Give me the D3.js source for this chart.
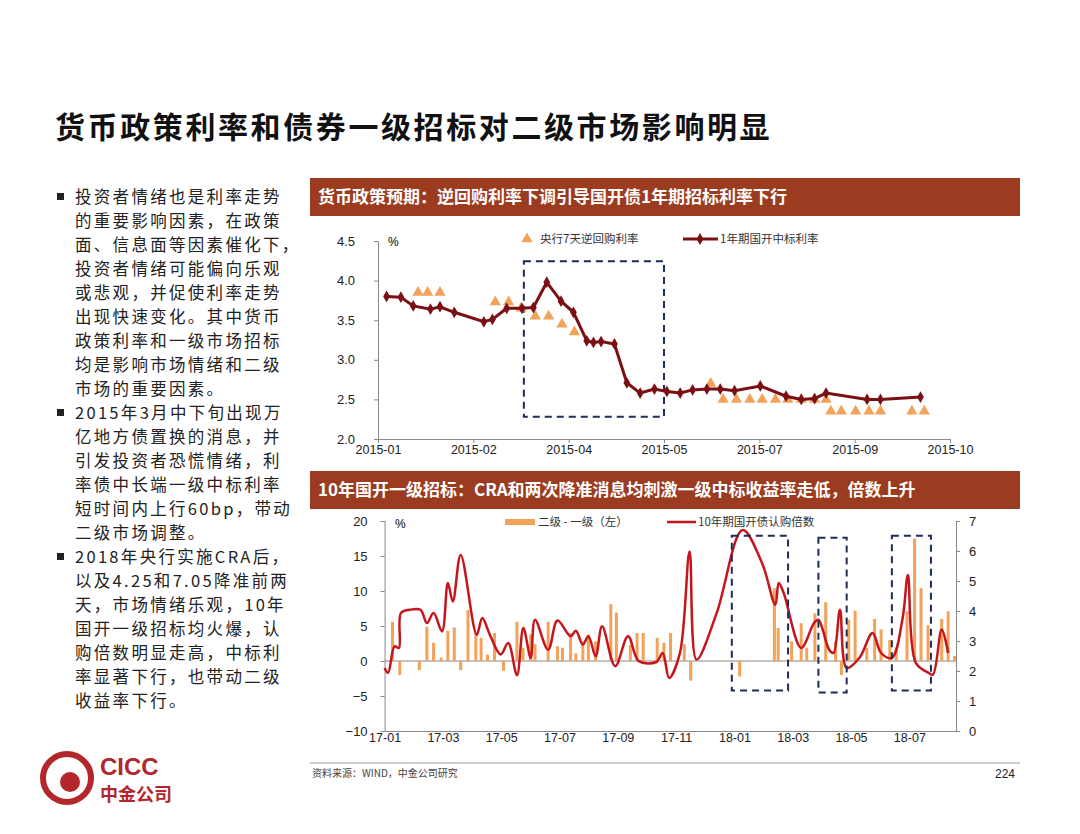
<!DOCTYPE html>
<html lang="zh">
<head>
<meta charset="UTF-8">
<script src="https://d3js.org/d3.v7.min.js"></script>
<style>
  body { margin: 0; background: #fff; font-family: "Noto Sans CJK SC", sans-serif; }
  svg text { font-family: "Noto Sans CJK SC", sans-serif; }
  .num { font-family: Arial, "Liberation Sans", sans-serif !important; }
</style>
</head>
<body>
<svg width="1080" height="834"></svg>
<script>
// ---- top chart data (t = tick slot 0..6) ----
var topTicks = ["2015-01", "2015-02", "2015-04", "2015-05", "2015-07", "2015-09", "2015-10"];
var bidT = [0.09,0.24,0.37,0.55,0.65,0.80,1.11,1.20,1.35,1.51,1.63,1.77,1.92,2.05,2.19,2.26,2.34,2.48,2.61,2.75,2.90,3.03,3.17,3.30,3.45,3.59,3.74,4.01,4.28,4.44,4.58,4.70,5.13,5.27,5.69];
var bidY = [3.80,3.79,3.68,3.64,3.67,3.60,3.48,3.51,3.65,3.65,3.66,3.98,3.74,3.60,3.24,3.22,3.23,3.20,2.71,2.58,2.63,2.60,2.58,2.62,2.63,2.63,2.61,2.67,2.54,2.50,2.51,2.58,2.50,2.50,2.53];
var repoT = [0.42,0.52,0.65,1.23,1.37,1.50,1.65,1.79,1.93,2.06,3.49,3.62,3.76,3.90,4.03,4.17,4.30,4.44,4.58,4.70,4.75,4.86,5.01,5.15,5.27,5.60,5.73];
var repoY = [3.85,3.85,3.85,3.73,3.73,3.65,3.55,3.55,3.45,3.35,2.70,2.50,2.50,2.50,2.50,2.50,2.50,2.50,2.50,2.50,2.35,2.35,2.35,2.35,2.35,2.35,2.35];
var topBox = [1.53, 3.0, 4.245, 2.28];

// ---- bottom chart data (m = months since 2017-01) ----
var botTicks = ["17-01","17-03","17-05","17-07","17-09","17-11","18-01","18-03","18-05","18-07"];
var spreadM = [0.27,0.52,1.19,1.45,1.68,1.94,2.17,2.39,2.61,2.86,3.13,3.31,3.53,3.77,4.08,4.54,4.75,5.01,5.16,5.61,5.93,6.10,6.38,6.56,6.80,6.99,7.24,7.76,7.95,8.43,8.66,8.87,9.35,9.58,9.81,10.28,10.50,12.18,13.37,13.50,13.96,14.29,14.48,14.76,15.13,15.47,15.67,15.92,16.14,16.54,16.81,17.03,17.33,17.55,17.92,18.18,18.40,18.64,19.11,19.33,19.55];
var spreadV = [5.6,-2.0,-1.3,4.9,2.6,0.5,4.3,4.8,-1.3,7.3,4.0,3.3,0.9,4.0,-1.4,5.6,1.9,3.8,2.4,5.6,2.1,1.9,4.0,1.1,2.8,3.8,2.8,8.1,6.9,2.3,4.0,4.0,3.3,2.6,4.0,2.4,-2.8,-2.2,10.4,4.7,2.8,5.4,1.9,6.8,8.4,2.8,-2.0,5.9,7.2,1.9,6.0,4.5,3.0,1.9,7.1,17.5,10.4,5.1,6.0,7.1,0.7];
var multM = [0,0.12,0.34,0.49,0.56,0.86,1.23,1.45,1.68,1.97,2.17,2.34,2.61,3.16,3.35,3.61,3.98,4.24,4.54,4.76,5.01,5.16,5.61,5.93,6.38,6.56,6.80,6.99,7.24,7.46,7.91,8.35,8.72,9.32,9.54,9.76,10.13,10.46,10.70,11.39,12.28,12.95,13.40,13.52,13.69,14.29,14.73,14.88,15.25,15.40,15.62,15.85,16.29,16.74,17.03,17.40,17.77,17.95,18.22,18.66,18.81,19.11,19.33];
var multV = [2.10,1.94,2.82,2.77,3.93,4.04,4.04,3.60,3.93,3.32,4.93,4.32,5.87,3.21,3.77,3.21,2.55,2.93,1.86,3.43,2.44,3.71,2.71,3.68,3.16,3.34,2.88,3.16,2.49,3.49,2.16,3.16,2.33,2.30,2.60,1.77,2.60,5.98,2.38,3.93,6.70,5.59,4.21,4.93,4.60,2.77,3.60,3.71,2.71,2.60,4.04,2.10,2.44,3.27,2.60,2.44,3.77,5.20,2.27,1.94,1.88,3.38,2.60];
var botBoxes = [[11.91,13.84,17.9,-4.2],[14.88,15.85,17.6,-4.5],[17.40,18.74,17.9,-4.2]];

var bullets = [
  ["投资者情绪也是利率走势","的重要影响因素，在政策","面、信息面等因素催化下，","投资者情绪可能偏向乐观","或悲观，并促使利率走势","出现快速变化。其中货币","政策利率和一级市场招标","均是影响市场情绪和二级","市场的重要因素。"],
  ["2015年3月中下旬出现万","亿地方债置换的消息，并","引发投资者恐慌情绪，利","率债中长端一级中标利率","短时间内上行60bp，带动","二级市场调整。"],
  ["2018年央行实施CRA后，","以及4.25和7.05降准前两","天，市场情绪乐观，10年","国开一级招标均火爆，认","购倍数明显走高，中标利","率显著下行，也带动二级","收益率下行。"]
];

var svg = d3.select("svg");
var BAR = "#9b3b1f", NAVY = "#1e2d55", ORANGE = "#f2a25a";

svg.append("text").attr("x", 55).attr("y", 138).attr("font-size", 30).attr("font-weight", "bold")
  .attr("letter-spacing", 2.6).attr("fill", "#111").text("货币政策利率和债券一级招标对二级市场影响明显");

// bullets
var ly = 203;
bullets.forEach(function(lines) {
  svg.append("rect").attr("x", 57).attr("y", ly - 10).attr("width", 7).attr("height", 7).attr("fill", "#222");
  lines.forEach(function(l) {
    svg.append("text").attr("x", 75).attr("y", ly).attr("font-size", 16.5).attr("letter-spacing", 2.3)
      .attr("fill", "#222").text(l);
    ly += 24;
  });
});

// header bars
function header(y, txt) {
  svg.append("rect").attr("x", 310).attr("y", y).attr("width", 710).attr("height", 38).attr("fill", BAR);
  svg.append("text").attr("x", 318).attr("y", y + 25).attr("font-size", 17).attr("font-weight", "bold")
    .attr("fill", "#fff").text(txt);
}
header(178, "货币政策预期：逆回购利率下调引导国开债1年期招标利率下行");
header(471, "10年国开一级招标：CRA和两次降准消息均刺激一级中标收益率走低，倍数上升");

// ---- top chart ----
var xT = d3.scaleLinear().domain([0, 6]).range([378, 950]);
var yT = d3.scaleLinear().domain([2, 4.5]).range([439, 241]);
var gT = svg.append("g");
gT.append("g").attr("transform", "translate(378,0)")
  .call(d3.axisLeft(yT).tickValues([2, 2.5, 3, 3.5, 4, 4.5]).tickFormat(d3.format(".1f")).tickSize(4))
  .call(function(g) { g.selectAll("text").attr("class", "num").attr("font-size", 13).attr("fill", "#222").attr("dx", -16); });
gT.append("g").attr("transform", "translate(0,439)")
  .call(d3.axisBottom(xT).tickValues(d3.range(7)).tickFormat(function(d) { return topTicks[d]; }).tickSize(4))
  .call(function(g) { g.selectAll("text").attr("class", "num").attr("font-size", 12.5).attr("fill", "#222").attr("dy", 8); });
gT.selectAll(".domain, .tick line").attr("stroke", "#888");
gT.append("text").attr("class", "num").attr("x", 388).attr("y", 246).attr("font-size", 12).text("%");

gT.append("rect").attr("x", xT(topBox[0])).attr("y", yT(topBox[2]))
  .attr("width", xT(topBox[1]) - xT(topBox[0])).attr("height", yT(topBox[3]) - yT(topBox[2]))
  .attr("fill", "none").attr("stroke", NAVY).attr("stroke-width", 2).attr("stroke-dasharray", "7,5");

var tri = d3.symbol().type(d3.symbolTriangle).size(55);
gT.selectAll(".tri").data(repoT).enter().append("path")
  .attr("d", tri).attr("fill", ORANGE)
  .attr("transform", function(d, i) { return "translate(" + xT(d) + "," + yT(repoY[i]) + ")"; });

var bidPts = bidT.map(function(d, i) { return [xT(d), yT(bidY[i])]; });
gT.append("path").attr("d", d3.line()(bidPts)).attr("fill", "none").attr("stroke", "#7a0f14").attr("stroke-width", 3);
var dia = d3.symbol().type(d3.symbolDiamond).size(40);
gT.selectAll(".dia").data(bidPts).enter().append("path").attr("d", dia).attr("fill", "#7a0f14")
  .attr("transform", function(d) { return "translate(" + d[0] + "," + d[1] + ")"; });

// top legend
gT.append("path").attr("d", tri).attr("fill", ORANGE).attr("transform", "translate(527,239)");
gT.append("text").attr("x", 540).attr("y", 243).attr("font-size", 11.5).attr("fill", "#333").text("央行7天逆回购利率");
gT.append("line").attr("x1", 683).attr("x2", 718).attr("y1", 239).attr("y2", 239).attr("stroke", "#7a0f14").attr("stroke-width", 3);
gT.append("path").attr("d", dia).attr("fill", "#7a0f14").attr("transform", "translate(700,239)");
gT.append("text").attr("x", 720).attr("y", 243).attr("font-size", 11.5).attr("fill", "#333").text("1年期国开中标利率");

// ---- bottom chart ----
var xB = d3.scaleLinear().domain([0, 19.6]).range([384.6, 956]);
var yL = d3.scaleLinear().domain([-10, 20]).range([731, 521]);
var yR = d3.scaleLinear().domain([0, 7]).range([731, 521]);
var gB = svg.append("g");
gB.append("g").attr("transform", "translate(384.6,0)")
  .call(d3.axisLeft(yL).tickValues([-10, -5, 0, 5, 10, 15, 20]).tickSize(4))
  .call(function(g) { g.selectAll("text").attr("class", "num").attr("font-size", 13).attr("fill", "#222").attr("dx", -10); });
gB.append("g").attr("transform", "translate(956,0)")
  .call(d3.axisRight(yR).tickValues(d3.range(8)).tickFormat(d3.format("d")).tickSize(4))
  .call(function(g) { g.selectAll("text").attr("class", "num").attr("font-size", 13).attr("fill", "#222").attr("dx", 6); });
gB.append("g").attr("transform", "translate(0,731)")
  .call(d3.axisBottom(xB).tickValues(d3.range(0, 19, 2)).tickFormat(function(d) { return botTicks[d / 2]; }).tickSize(0))
  .call(function(g) { g.selectAll("text").attr("class", "num").attr("font-size", 12.5).attr("fill", "#222").attr("dy", 8); });
gB.selectAll(".domain, .tick line").attr("stroke", "#888");
gB.append("line").attr("x1", 384.6).attr("x2", 956).attr("y1", yL(0)).attr("y2", yL(0)).attr("stroke", "#888");
gB.append("text").attr("class", "num").attr("x", 395).attr("y", 528).attr("font-size", 12).text("%");

gB.selectAll(".bar").data(spreadM).enter().append("rect")
  .attr("x", function(d) { return xB(d) - 1.5; }).attr("width", 3)
  .attr("y", function(d, i) { return yL(Math.max(0, spreadV[i])); })
  .attr("height", function(d, i) { return Math.abs(yL(spreadV[i]) - yL(0)); })
  .attr("fill", ORANGE);

gB.append("path").attr("d", d3.line().curve(d3.curveCatmullRom.alpha(0.5))
    .x(function(d) { return xB(d); }).y(function(d, i) { return yR(multV[i]); })(multM))
  .attr("fill", "none").attr("stroke", "#c4161c").attr("stroke-width", 2.5);

botBoxes.forEach(function(b) {
  gB.append("rect").attr("x", xB(b[0])).attr("y", yL(b[2]))
    .attr("width", xB(b[1]) - xB(b[0])).attr("height", yL(b[3]) - yL(b[2]))
    .attr("fill", "none").attr("stroke", NAVY).attr("stroke-width", 2).attr("stroke-dasharray", "7,5");
});

// bottom legend
gB.append("rect").attr("x", 505).attr("y", 519).attr("width", 30).attr("height", 6).attr("fill", ORANGE);
gB.append("text").attr("x", 538).attr("y", 526).attr("font-size", 11.5).attr("fill", "#333").text("二级 - 一级（左）");
gB.append("line").attr("x1", 667).attr("x2", 696).attr("y1", 522).attr("y2", 522).attr("stroke", "#c4161c").attr("stroke-width", 2.5);
gB.append("text").attr("x", 698).attr("y", 526).attr("font-size", 11.5).attr("fill", "#333").text("10年期国开债认购倍数");

// footer
svg.append("line").attr("x1", 310).attr("x2", 1020).attr("y1", 763).attr("y2", 763).attr("stroke", "#999");
svg.append("text").attr("x", 312).attr("y", 777).attr("font-size", 10).attr("fill", "#444").text("资料来源：WIND，中金公司研究");
svg.append("text").attr("class", "num").attr("x", 1015).attr("y", 778).attr("text-anchor", "end").attr("font-size", 12).attr("fill", "#222").text("224");

// logo
svg.append("circle").attr("cx", 67).attr("cy", 778).attr("r", 24).attr("fill", "none").attr("stroke", "#b3262b").attr("stroke-width", 6);
svg.append("circle").attr("cx", 70).attr("cy", 782).attr("r", 10).attr("fill", "#b3262b");
svg.append("text").attr("class", "num").attr("x", 100).attr("y", 775).attr("font-size", 24).attr("font-weight", "bold").attr("fill", "#b3262b").text("CICC");
svg.append("text").attr("x", 100).attr("y", 801).attr("font-size", 18).attr("font-weight", "bold").attr("fill", "#b3262b").text("中金公司");
</script>
</body>
</html>
